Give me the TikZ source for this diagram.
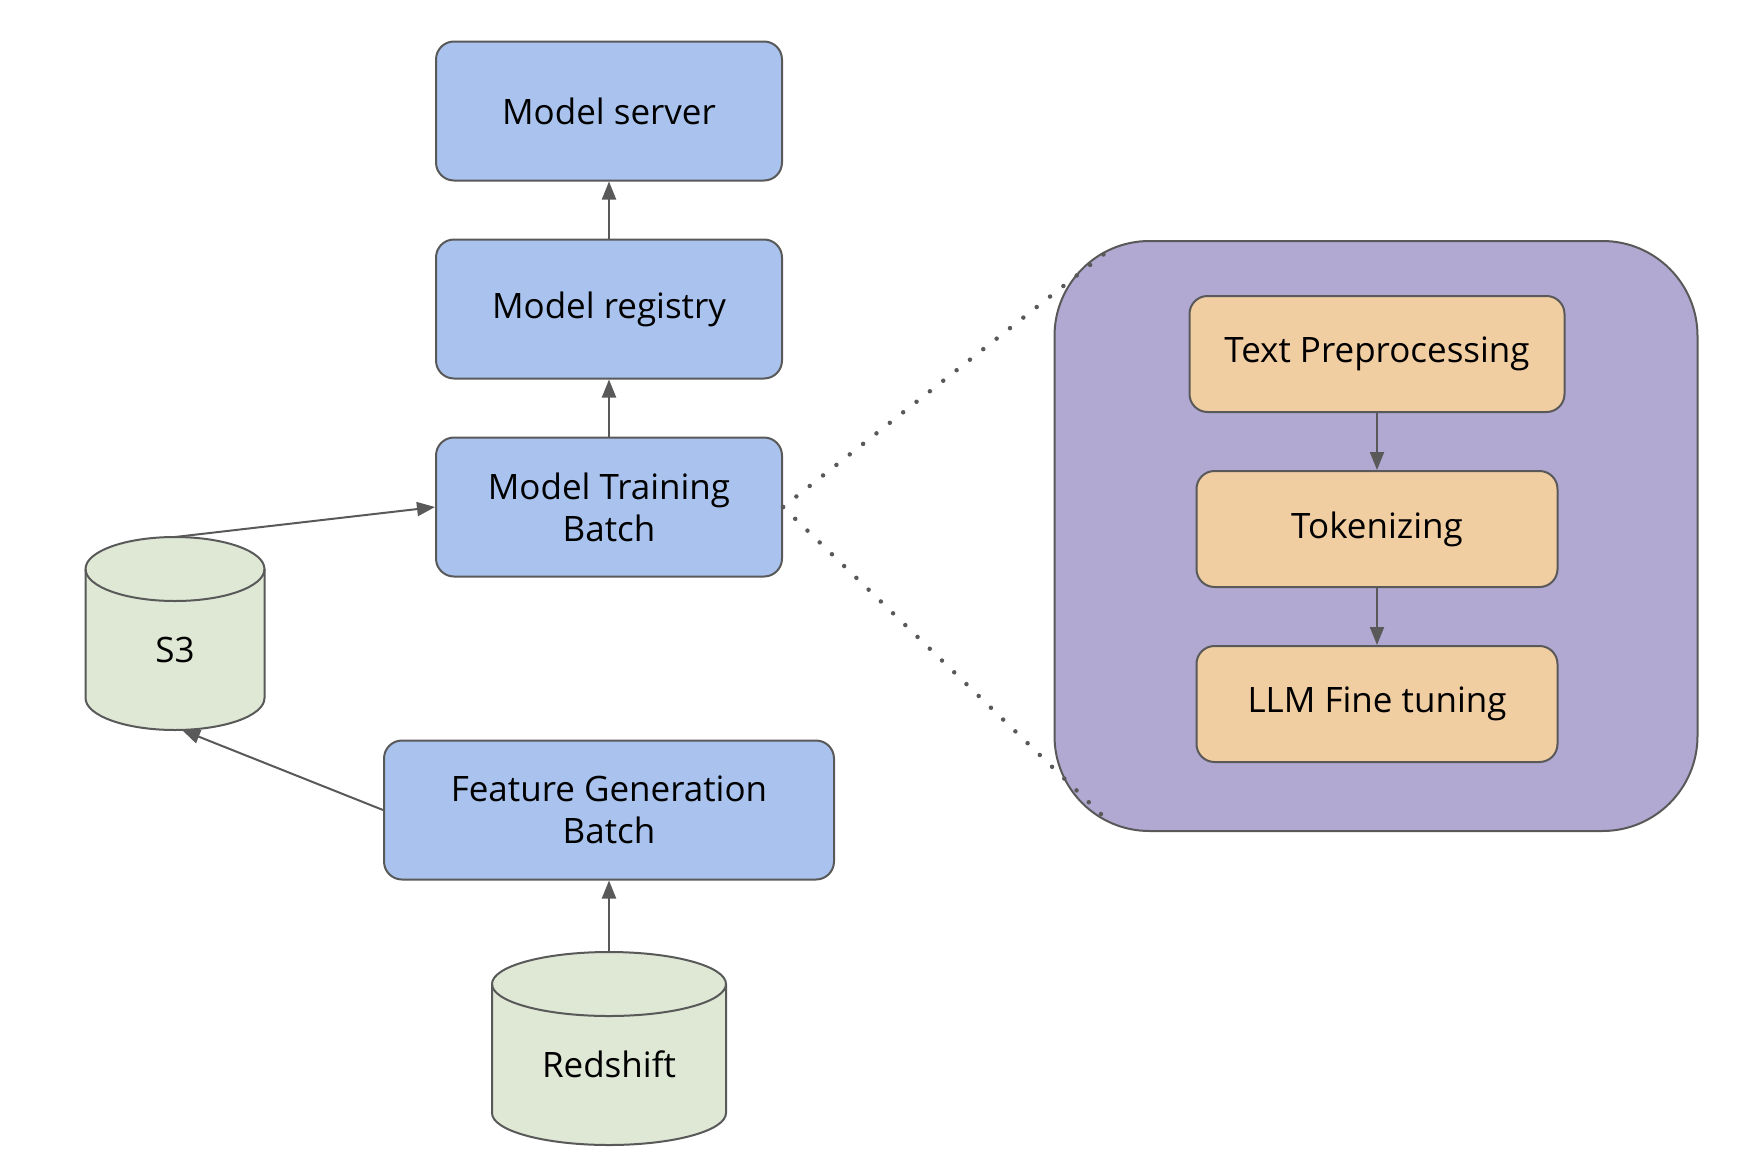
\documentclass[tikz,border=0pt]{standalone}
\usepackage{fontspec}
\setmainfont{Open Sans}
\usepackage{tikz}
\usetikzlibrary{chains,positioning,backgrounds,arrows.meta}

\definecolor{linegray}{HTML}{595959}
\definecolor{stepblue}{HTML}{A9C3EE}
\definecolor{storegreen}{HTML}{DEE8D5}
\definecolor{zoompurple}{HTML}{B1A9D1}
\definecolor{steporange}{HTML}{F1CDA2}

\begin{document}
\begin{tikzpicture}[x=1pt,y=-1pt]
		\tikzstyle{every node}=[font=\fontsize{35}{42}\selectfont,align=center]
		\tikzstyle{flow}=[line width=2pt,draw=linegray,-{Triangle[length=18pt,width=14pt]}]
		\tikzstyle{zoomline}=[linegray,line width=4.5pt,line cap=round,dash pattern=on 0pt off 17pt]
		
		\edef\heightbox{139pt}
		\tikzstyle{jobbox}=[draw=linegray,line width=2pt,fill=stepblue,rounded corners=18pt,minimum width=346pt,minimum height=\heightbox]
		\tikzstyle{llmstep}=[draw=linegray,line width=2pt,fill=steporange,rounded corners=18pt,minimum width=361pt,minimum height=116pt]
		\tikzstyle{datastore}=[minimum height=161pt,outer sep=0pt]
		\tikzstyle{storeline}=[draw=linegray,line width=2pt,fill=storegreen]
		
		\useasboundingbox (0,0) rectangle (1740,1162);
		
		%% Draw training pipeline
		\begin{scope}[start chain=1 going above,node distance=57pt]
		
		\node [on chain=1,jobbox] (train) at (609,507) {Model Training\\Batch};
		\node [on chain=1,jobbox] (registry) {Model registry};
		\node [on chain=1,jobbox] (server) {Model server};
		
		\end{scope}
		
		\node [jobbox,minimum width=450pt] (features) at (609,810) {Feature Generation\\Batch};
		
		%% Data stores, cylinder drawn behind the label
		\node [datastore,minimum width=179pt] (s3) at (175,649.5) {S3};
		\node [datastore,minimum width=234pt] (redshift) at (609,1064.5) {Redshift};
		
		\begin{scope}[on background layer]
		\foreach \store/\rx in {s3/89.5,redshift/117}{
			\filldraw [storeline] (\store.north west) -- ([yshift=32pt]\store.south west)
				arc [start angle=180,end angle=360,x radius=\rx pt,y radius=32pt]
				-- (\store.north east)
				arc [start angle=0,end angle=180,x radius=\rx pt,y radius=32pt] -- cycle;
			\draw [storeline,fill=none] (\store.north west)
				arc [start angle=180,end angle=360,x radius=\rx pt,y radius=32pt];
		}
		\end{scope}
		
		\draw [flow] (train) -- (registry);
		\draw [flow] (registry) -- (server);
		\draw [flow] ([yshift=32pt]s3.north) -- (train.west);
		\draw [flow] (features.west) -- ([xshift=7pt]s3.south);
		\draw [flow] ([yshift=32pt]redshift.north) -- (features.south);
		
		%% Zoom into the training batch
		\node [draw=linegray,line width=2pt,fill=zoompurple,rounded corners=95pt,minimum width=643pt,minimum height=590pt] (procbox) at (1376,536) {};
		
		\begin{scope}[start chain=2 going below,node distance=57pt]
		
		\node [on chain=2,llmstep,minimum width=375pt] (prep) at (1377,354) {Text Preprocessing};
		\node [on chain=2,llmstep] (token) {Tokenizing};
		\node [on chain=2,llmstep] (tune) {LLM Fine tuning};
		
		\end{scope}
		
		\draw [flow] (prep) -- (token);
		\draw [flow] (token) -- (tune);
		
		\coordinate (zoomtop) at (1104,254);
		\coordinate (zoomlow) at (1102,815);
		\draw [zoomline] (train.east) -- (zoomtop);
		\draw [zoomline] (train.east) -- (zoomlow);
		
		\end{tikzpicture}
\end{document}
